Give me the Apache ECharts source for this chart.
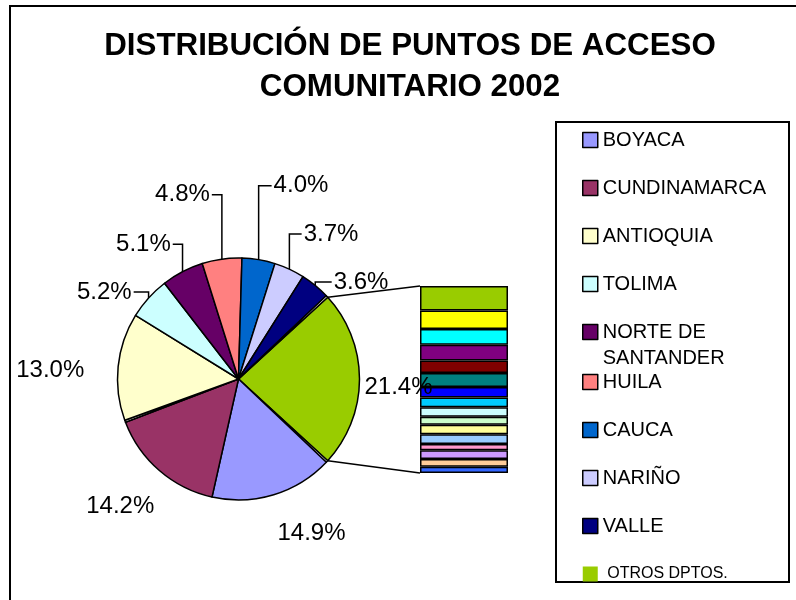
<!DOCTYPE html>
<html>
<head>
<meta charset="utf-8">
<script src="https://cdn.jsdelivr.net/npm/echarts@6/dist/echarts.min.js"></script>
<style>
html, body { margin: 0; padding: 0; background: #fff; }
#chart { width: 796px; height: 600px; }
</style>
</head>
<body>
<div id="chart"></div>
<script>
// departamentos (orden de la leyenda) y su porcentaje
var depts = ['BOYACA', 'CUNDINAMARCA', 'ANTIOQUIA', 'TOLIMA', 'NORTE DE SANTANDER',
    'HUILA', 'CAUCA', 'NARIÑO', 'VALLE', 'OTROS DPTOS.'];
var shares = [14.9, 14.2, 13.0, 5.2, 5.1, 4.8, 4.0, 3.7, 3.6, 21.4];
var deptColors = ['#9999FF', '#993366', '#FFFFCC', '#CCFFFF', '#660066',
    '#FF8080', '#0066CC', '#CCCCFF', '#000080', '#99CC00'];
// rebanadas casi vacias que se ven como doble borde
var sliver = 0.25;

// barra de "otros departamentos" (de arriba a abajo)
var barValues = [2.8, 2.1, 1.8, 1.8, 1.4, 1.6, 1.2, 1.1, 1.1, 0.9, 1.1, 1.1, 0.7, 1.0, 0.9, 0.7];
var barColors = ['#99CC00', '#FFFF00', '#00FFFF', '#800080', '#800000', '#008080', '#0000FF', '#00CCFF',
    '#CCFFFF', '#CCFFCC', '#FFFF99', '#99CCFF', '#FF99CC', '#CC99FF', '#FFCC99', '#3366FF'];

var font = '"Liberation Sans", Arial, sans-serif';
var pieCenter = [238.5, 379];
var pieRadius = 121;
var barBox = { left: 420, top: 286, width: 88, height: 187 };
var legendBox = { left: 556, top: 122, width: 233, height: 460 };

// estilo de las etiquetas por departamento
var lineShow = [false, false, false, true, true, true, true, true, true, false];
var lineLen = [37, 20, 28, 12, 32, 66, 78, 41, 7, 0];
var lineLen2 = [0, 0, 0, 2, 2, 3, 2, 0, 10, 0];
var labelDx = [-12, 13, -1, -1, 10, 5, -5, -8, -1, 0];
var labelDy = [3, 21, 7, 2, 1, 1, 3, 2, 2, 8];

// orden de las rebanadas en sentido horario, -1 = rebanada vacia
var pieOrder = [9, -1, 0, 1, -1, 2, 3, 4, 5, 6, 7, 8, -1];

var total = 0;
pieOrder.forEach(function (k) { total += k < 0 ? sliver : shares[k]; });
var startAngle = 180 * shares[9] / total;

var pieData = pieOrder.map(function (k, i) {
    if (k < 0) {
        return {
            name: 'vacio' + i, value: sliver,
            itemStyle: { color: '#ffffff' },
            label: { show: false }, labelLine: { show: false }
        };
    }
    return {
        name: depts[k], value: shares[k],
        itemStyle: { color: deptColors[k] },
        labelLine: { show: lineShow[k], length: lineLen[k], length2: lineLen2[k] }
    };
});

var barTotal = barValues.reduce(function (a, b) { return a + b; }, 0);
var barSeries = barValues.map(function (v, i) {
    return {
        type: 'bar', stack: 'otros', silent: true,
        barWidth: '100%',
        data: [v],
        itemStyle: { color: barColors[i], borderColor: '#000', borderWidth: 1.5 }
    };
});

// lineas que unen la rebanada de otros con la barra
function edgePoint(deg) {
    var a = deg * Math.PI / 180;
    return [pieCenter[0] + pieRadius * Math.cos(a), pieCenter[1] - pieRadius * Math.sin(a)];
}
var pTop = edgePoint(startAngle), pBot = edgePoint(-startAngle);

// leyenda partida en dos bloques para que NORTE DE SANTANDER ocupe un solo renglon
var legendText = {
    fontFamily: font, fontSize: 20, color: '#000', lineHeight: 52,
    rich: {
        n: { fontFamily: font, fontSize: 20, color: '#000', lineHeight: 52 },
        z: { fontFamily: font, fontSize: 20, color: '#000', lineHeight: 0 },
        s: { fontFamily: font, fontSize: 16, color: '#000', lineHeight: 52 }
    }
};
function legendBlock(names, top) {
    return {
        orient: 'vertical',
        left: 582,
        top: top,
        height: 300,
        padding: 0,
        itemGap: -4,
        itemWidth: 15,
        itemHeight: 15,
        icon: 'rect',
        selectedMode: false,
        itemStyle: { borderColor: '#000', borderWidth: 1.5 },
        data: names.map(function (d) {
            return d === 'OTROS DPTOS.' ? { name: d, itemStyle: { borderWidth: 0 } } : d;
        }),
        formatter: function (name) {
            if (name === 'NORTE DE SANTANDER') return '{n|NORTE DE}\n{z|SANTANDER}';
            if (name === 'OTROS DPTOS.') return '{s| OTROS DPTOS.}';
            return name;
        },
        textStyle: legendText
    };
}

var chartDom = document.getElementById('chart');
var myChart = echarts.init(chartDom, null, { renderer: 'canvas' });
var option;

option = {
    backgroundColor: '#fff',
    animation: false,
    title: {
        text: 'DISTRIBUCIÓN DE PUNTOS DE ACCESO\nCOMUNITARIO 2002',
        left: 410,
        top: 26,
        padding: 0,
        textAlign: 'center',
        textStyle: { fontFamily: font, fontSize: 31.3, fontWeight: 'bold', color: '#000', lineHeight: 41 }
    },
    legend: [
        legendBlock(depts.slice(0, 5), 114),
        legendBlock(depts.slice(5), 356)
    ],
    grid: { left: barBox.left, top: barBox.top, width: barBox.width, height: barBox.height },
    xAxis: { type: 'category', data: ['otros'], show: false },
    yAxis: { type: 'value', inverse: true, min: 0, max: barTotal, show: false },
    graphic: [
        { type: 'rect', shape: { x: 10, y: 6, width: 820, height: 700 }, style: { fill: 'none', stroke: '#000', lineWidth: 2 }, silent: true },
        { type: 'rect', shape: { x: legendBox.left, y: legendBox.top, width: legendBox.width, height: legendBox.height }, style: { fill: 'none', stroke: '#000', lineWidth: 2 }, silent: true },
        { type: 'line', shape: { x1: pTop[0], y1: pTop[1], x2: barBox.left, y2: barBox.top }, style: { stroke: '#000', lineWidth: 1.5 }, silent: true, z: 1 },
        { type: 'line', shape: { x1: pBot[0], y1: pBot[1], x2: barBox.left, y2: barBox.top + barBox.height }, style: { stroke: '#000', lineWidth: 1.5 }, silent: true, z: 1 }
    ],
    series: barSeries.concat([{
        type: 'pie',
        z: 5,
        silent: true,
        center: pieCenter,
        radius: pieRadius,
        startAngle: startAngle,
        clockwise: true,
        avoidLabelOverlap: false,
        itemStyle: { borderColor: '#000', borderWidth: 1.5 },
        label: {
            show: true,
            position: 'outside',
            fontFamily: font,
            fontSize: 24,
            color: '#000',
            distanceToLabelLine: 5,
            formatter: function (p) { return p.value.toFixed(1) + '%'; }
        },
        labelLine: { lineStyle: { color: '#000', width: 1.5 } },
        labelLayout: function (params) {
            var k = pieOrder[params.dataIndex];
            if (k == null || k < 0) return {};
            var out = { dx: labelDx[k], dy: labelDy[k] };
            var pts = params.labelLinePoints;
            if (lineShow[k] && pts && pts.length) {
                // linea en codo: vertical desde la rebanada y luego horizontal hasta el texto
                var r = params.labelRect;
                var cy = r.y + labelDy[k] + r.height / 2;
                var left = r.x + labelDx[k], right = left + r.width;
                var ex = pts[0][0], ey = pts[0][1];
                var nearX = right < ex ? right + 2 : left - 2;
                out.labelLinePoints = [[ex, ey], [ex, cy], [nearX, cy]];
            }
            return out;
        },
        emphasis: { disabled: true },
        data: pieData
    }])
};

option && myChart.setOption(option);
</script>
</body>
</html>
